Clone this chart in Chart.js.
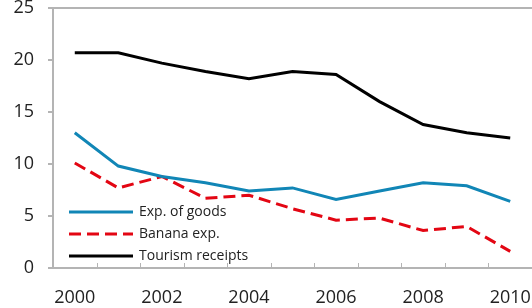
<!DOCTYPE html>
<html lang="en">
<head>
    <meta charset="UTF-8">
    <title>Exports and tourism receipts</title>
    <script src="https://cdn.jsdelivr.net/npm/chart.js@4/dist/chart.umd.min.js"></script>
    <style>
    body{
        margin: 0;
        background-color: #fff;
    }
    .chartBox{
        width: 532px;
        height: 308px;
    }
    </style>
</head>
<body>

    <div class="chartBox">
        <canvas id="myChart"></canvas>
    </div>

    <script>

        // Data
        const years = ['2000', '2001', '2002', '2003', '2004', '2005', '2006', '2007', '2008', '2009', '2010'];
        const expGoods = [13.0, 9.8, 8.8, 8.2, 7.4, 7.7, 6.6, 7.4, 8.2, 7.9, 6.4];
        const bananaExp = [10.1, 7.7, 8.8, 6.7, 7.0, 5.7, 4.6, 4.8, 3.6, 4.0, 1.6];
        const tourism = [20.7, 20.7, 19.7, 18.9, 18.2, 18.9, 18.6, 16.0, 13.8, 13.0, 12.5];
        const yTicks = [0, 5, 10, 15, 20, 25];

        const axisGray = '#b4b4b4';
        const textColor = '#222';

        // legend drawn inside the plot, lower left
        const innerLegend = {
            id: 'innerLegend',
            afterDraw(chart){
                const ctx = chart.ctx;
                const area = chart.chartArea;
                const x0 = area.left + 16;
                let y = area.bottom - 56;
                ctx.save();
                ctx.font = '14px "Open Sans", sans-serif';
                ctx.textBaseline = 'middle';
                chart.data.datasets.forEach(ds => {
                    ctx.beginPath();
                    ctx.lineWidth = ds.borderWidth;
                    ctx.strokeStyle = ds.borderColor;
                    ctx.setLineDash(ds.borderDash || []);
                    ctx.moveTo(x0, y);
                    ctx.lineTo(x0 + 64, y);
                    ctx.stroke();
                    ctx.setLineDash([]);
                    ctx.fillStyle = textColor;
                    ctx.fillText(ds.label, x0 + 70, y);
                    y += 22;
                });
                ctx.restore();
            }
        };

        // small x tick marks pointing up into the plot
        const innerTicks = {
            id: 'innerTicks',
            afterDraw(chart){
                const ctx = chart.ctx;
                const area = chart.chartArea;
                const step = (area.right - area.left) / years.length;
                ctx.save();
                ctx.strokeStyle = axisGray;
                ctx.lineWidth = 1;
                for(let i = 1; i < years.length; i++){
                    const x = Math.round(area.left + i * step) + 0.5;
                    ctx.beginPath();
                    ctx.moveTo(x, area.bottom);
                    ctx.lineTo(x, area.bottom - 5);
                    ctx.stroke();
                }
                ctx.restore();
            }
        };

        let data = {
            labels: years,
            datasets: [{
                label: 'Exp. of goods',
                data: expGoods,
                borderColor: '#1186b6',
                borderWidth: 3,
                pointRadius: 0,
                tension: 0
            },{
                label: 'Banana exp.',
                data: bananaExp,
                borderColor: '#e30613',
                borderWidth: 3,
                borderDash: [12, 6],
                pointRadius: 0,
                tension: 0
            },{
                label: 'Tourism receipts',
                data: tourism,
                borderColor: '#000',
                borderWidth: 3,
                pointRadius: 0,
                tension: 0
            }]
        };

        let config = {
            type: 'line',
            data,
            options: {
                responsive: true,
                maintainAspectRatio: false,
                animation: false,
                layout: {
                    padding: {left: 12, right: 0, top: 0, bottom: 0}
                },
                scales: {
                    x: {
                        offset: true,
                        border: {color: axisGray, width: 2},
                        grid: {display: true, offset: true, drawOnChartArea: false, drawTicks: false},
                        ticks: {
                            autoSkip: false,
                            maxRotation: 0,
                            padding: 19,
                            color: textColor,
                            font: {family: '"Open Sans", sans-serif', size: 18},
                            callback: function(value, index){
                                return index % 2 === 0 ? years[index] : '';
                            }
                        },
                        afterFit(scale){
                            scale.height = 40;
                            scale.paddingLeft = 0;
                            scale.paddingRight = 0;
                        }
                    },
                    y: {
                        min: yTicks[0],
                        max: yTicks[yTicks.length - 1],
                        border: {color: axisGray, width: 2},
                        grid: {
                            color: (c) => c.tick && c.tick.value === 25 ? axisGray : 'rgba(0,0,0,0)',
                            lineWidth: 2,
                            tickColor: axisGray,
                            tickLength: 5
                        },
                        ticks: {
                            stepSize: 5,
                            padding: 14,
                            color: textColor,
                            font: {family: '"Open Sans", sans-serif', size: 18, lineHeight: 1}
                        },
                        afterFit(scale){
                            scale.width = 41;
                            scale.paddingTop = 8;
                            scale.paddingBottom = 0;
                        }
                    }
                },
                plugins: {
                    legend: {display: false},
                    tooltip: {enabled: false}
                }
            },
            plugins: [innerLegend, innerTicks]
        };

        const myChart = new Chart(
            document.getElementById('myChart'), config
        );

    </script>
</body>
</html>
